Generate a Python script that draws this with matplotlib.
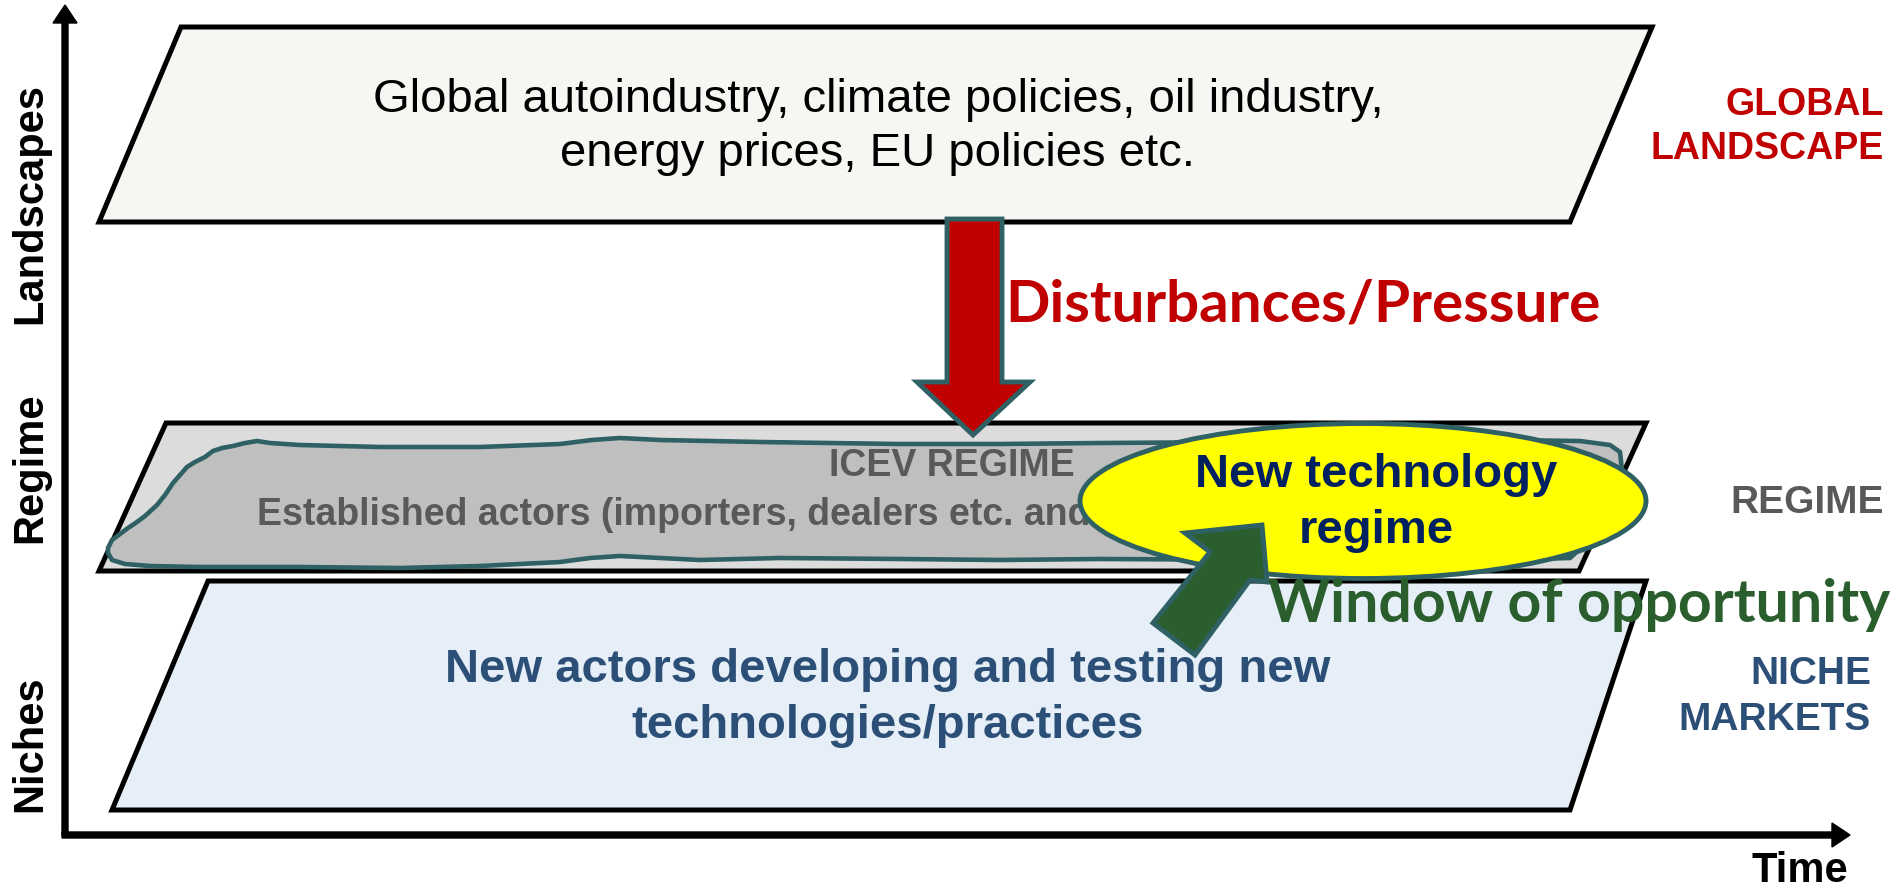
import matplotlib
matplotlib.use('Agg')
import matplotlib.pyplot as plt
from matplotlib.patches import Polygon, Ellipse, FancyArrow

# texts of the multi-level diagram
layer_names = ['Landscapes', 'Regime', 'Niches']
side_labels = ['GLOBAL\nLANDSCAPE', 'REGIME', 'NICHE\nMARKETS']
landscape_text = 'Global autoindustry, climate policies, oil industry,\nenergy prices, EU policies etc.'
regime_title = 'ICEV REGIME'
regime_text = 'Established actors (importers, dealers etc. and users)'
niche_text = 'New actors developing and testing new\ntechnologies/practices'
new_regime_text = 'New technology\nregime'
pressure_text = 'Disturbances/Pressure'
window_text = 'Window of opportunity'
time_label = 'Time'

ARIAL = ['Liberation Sans', 'DejaVu Sans']
CALIBRI = ['Lato', 'Open Sans', 'DejaVu Sans']
TEAL = '#2f6064'

fig = plt.figure(figsize=(18.93, 8.89), dpi=100)
ax = fig.add_axes([0, 0, 1, 1])
ax.set_xlim(0, 1893)
ax.set_ylim(889, 0)
ax.axis('off')

# axes arrows
ax.add_patch(FancyArrow(65, 835, 0, -830, width=6, head_width=24, head_length=18,
                        length_includes_head=True, color='black', zorder=5))
ax.add_patch(FancyArrow(62, 835, 1788, 0, width=6, head_width=24, head_length=18,
                        length_includes_head=True, color='black', zorder=5))

# the three layers (parallelograms)
layers = [
    ([(181, 27), (1652, 27), (1570, 222), (99, 222)], '#f6f7f2'),
    ([(166, 423), (1646, 423), (1579, 571), (99, 571)], '#dcdcdc'),
    ([(208, 581), (1646, 581), (1570, 810), (112, 810)], '#e6eef7'),
]
for pts, fc in layers:
    ax.add_patch(Polygon(pts, closed=True, fc=fc, ec='black', lw=3.6, joinstyle='miter', zorder=1))

# incumbent regime blob
blob = [(108, 548), (112, 540), (120, 534), (128, 528), (137, 522), (145, 516), (157, 505),
        (165, 495), (173, 483), (180, 475), (187, 467), (195, 462), (205, 457), (213, 451),
        (222, 448), (233, 446), (245, 443), (257, 441), (270, 443), (300, 445), (380, 447),
        (480, 447), (560, 444), (592, 440), (620, 438), (660, 440), (760, 442), (900, 444),
        (1000, 444), (1100, 443), (1250, 442), (1400, 441), (1500, 440), (1580, 441),
        (1610, 445), (1620, 452), (1622, 470), (1610, 500), (1590, 540), (1570, 558),
        (1500, 560), (1400, 561), (1300, 560), (1100, 559), (1000, 560), (900, 559),
        (780, 558), (700, 560), (620, 556), (590, 558), (560, 562), (480, 566), (400, 568),
        (300, 567), (200, 567), (150, 566), (125, 564), (112, 560), (108, 553)]
ax.add_patch(Polygon(blob, closed=True, fc='#bfbfbf', ec=TEAL, lw=3.3, zorder=2))

# layer texts
ax.text(878, 127, landscape_text, ha='center', va='center', fontsize=34,
        family=ARIAL, color='black', linespacing=1.32, zorder=3)
ax.text(952, 466, regime_title, ha='center', va='center', fontsize=27,
        family=ARIAL, weight='bold', color='#595959', zorder=3)
ax.text(257, 515, regime_text, ha='left', va='center', fontsize=27,
        family=ARIAL, weight='bold', color='#595959', zorder=3)
ax.text(888, 698, niche_text, ha='center', va='center', fontsize=34,
        family=ARIAL, weight='bold', color='#2b4f77', linespacing=1.36, zorder=3)

# new technology regime ellipse
ax.add_patch(Ellipse((1363, 501), 566, 155, fc='#ffff00', ec=TEAL, lw=3.5, zorder=4))
ax.text(1376, 503, new_regime_text, ha='center', va='center', fontsize=34,
        family=ARIAL, weight='bold', color='#002060', linespacing=1.33, zorder=5)

# pressure arrow (landscape -> regime)
red_arrow = [(947, 219), (1002, 219), (1002, 382), (1030, 382), (973, 435), (917, 382), (947, 382)]
ax.add_patch(Polygon(red_arrow, closed=True, fc='#c00000', ec=TEAL, lw=3.5,
                     joinstyle='miter', zorder=6))
ax.text(1005, 322, pressure_text, ha='left', va='baseline', fontsize=42,
        family=CALIBRI, weight='bold', color='#c00000', zorder=6)

# window of opportunity arrow (niche -> regime)
green_arrow = [(1262, 525), (1267, 582), (1250, 580), (1195, 655), (1153, 623), (1210, 552), (1185, 533)]
ax.add_patch(Polygon(green_arrow, closed=True, fc='#2b5e2e', ec=TEAL, lw=3.5,
                     joinstyle='miter', zorder=6))
ax.text(1268, 622, window_text, ha='left', va='baseline', fontsize=42.5,
        family=CALIBRI, weight='bold', color='#2a5f2d', zorder=6)

# level names on the y axis
for name, yc in zip(layer_names, [203, 468, 744]):
    ax.text(30, yc, name, rotation=90, ha='center', va='center', fontsize=30,
            family=ARIAL, weight='bold', color='black')

# labels on the right
ax.text(1884, 127, side_labels[0], ha='right', va='center', fontsize=27,
        family=ARIAL, weight='bold', color='#c00000', linespacing=1.3)
ax.text(1884, 503, side_labels[1], ha='right', va='center', fontsize=28,
        family=ARIAL, weight='bold', color='#595959')
ax.text(1871, 697, side_labels[2], ha='right', va='center', fontsize=28,
        family=ARIAL, weight='bold', color='#2b4f77', linespacing=1.33)

ax.text(1848, 882, time_label, ha='right', va='baseline', fontsize=30,
        family=ARIAL, weight='bold', color='black')

fig.savefig('out.png', dpi=100)
